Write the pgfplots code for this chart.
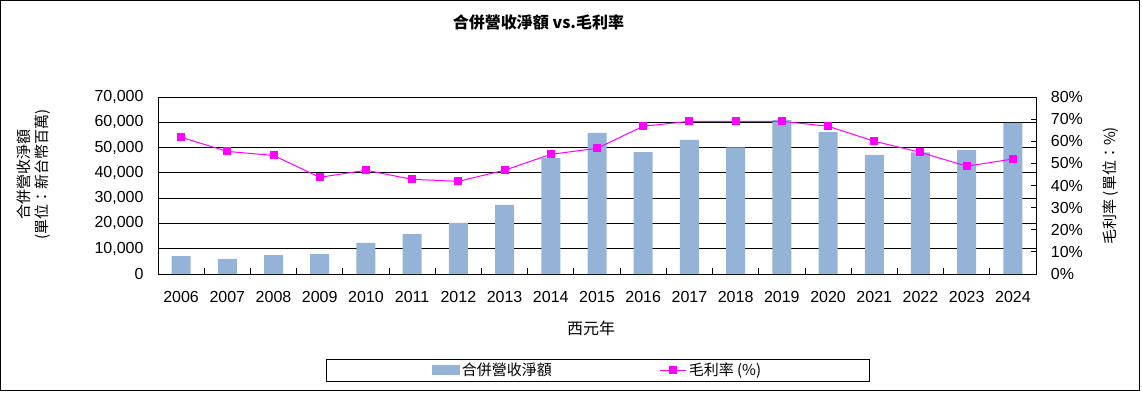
\documentclass[border=0pt]{standalone}
\usepackage{fontspec}
\setmainfont{Liberation Sans}
\newfontfamily\cjk{Noto Sans CJK TC}
\usepackage{pgfplots}
\usepackage{pgfplotstable}
\pgfplotsset{compat=1.18}
\definecolor{barblue}{RGB}{149,179,215}
\definecolor{mag}{RGB}{255,0,255}

\pgfplotstableread{
x rev gm
0 7100 61.8
1 6000 55.4
2 7500 53.6
3 7900 43.7
4 12300 46.9
5 15800 42.8
6 20200 41.9
7 27300 46.9
8 45900 54.1
9 55800 56.8
10 48200 66.8
11 53000 69.0
12 50100 69.0
13 60900 69.0
14 56100 66.8
15 47100 60.0
16 48100 55.0
17 49000 48.7
18 59800 52.0
}\datatable

\begin{document}
\begin{tikzpicture}
\pgfplotsset{
  common/.style={
    scale only axis, width=878pt, height=177pt,
    at={(0pt,0pt)}, anchor=south west,
    xmin=-0.5, xmax=18.5,
    /pgf/number format/assume math mode=true,
    tick label style={font=\fontsize{16}{19}\selectfont},
  },
}
\begin{axis}[common,
  ymin=0, ymax=70000,
  ytick={0,10000,...,70000},
  yticklabel style={/pgf/number format/fixed, /pgf/number format/1000 sep={,}, anchor=east, xshift=-11pt},
  scaled y ticks=false,
  ymajorgrids, grid style={black, line width=0.8pt},
  axis line style={black, line width=0.8pt},
  xtick={0,...,18},
  xticklabels={2006,2007,2008,2009,2010,2011,2012,2013,2014,2015,2016,2017,2018,2019,2020,2021,2022,2023,2024},
  xticklabel style={anchor=center, yshift=-22.7pt},
  major x tick style={draw=none},
  minor xtick={0.5,1.5,...,17.5},
  minor tick length=6pt,
  major tick length=5pt,
  tick align=inside,
  tick style={black, line width=0.8pt},
  xtick pos=bottom, ytick pos=left,
  title={\cjk\bfseries 合併營收淨額 vs.毛利率},
  title style={font=\fontsize{16}{19}\selectfont, at={(0.4334,1.3898)}, anchor=center},
  xlabel={\cjk 西元年},
  xlabel style={font=\fontsize{16}{19}\selectfont, at={(0.4932,-0.3051)}, anchor=center},
  ylabel={\cjk 合併營收淨額\\\cjk (單位：新台幣百萬)},
  ylabel style={font=\fontsize{15}{18}\selectfont, align=center, at={(-0.142,0.562)}, anchor=center, rotate=0},
]
\addplot[ybar, bar width=19pt, fill=barblue, draw=none] table[x=x, y=rev] {\datatable};
\end{axis}
\begin{axis}[common,
  hide x axis,
  axis y line*=right,
  ymin=0, ymax=80,
  ytick={0,10,...,80},
  yticklabel={\pgfmathprintnumber{\tick}\%},
  yticklabel style={anchor=west, xshift=11.4pt},
  tick align=inside,
  major tick length=5.5pt,
  tick style={black, line width=0.8pt},
  axis line style={black, line width=0.8pt},
  ylabel={\cjk 毛利率 (單位：\%)},
  ylabel style={font=\fontsize{15}{18}\selectfont, at={(1.0851,0.4989)}, anchor=center},
  legend columns=2,
  legend style={at={(0.5006,-0.5424)}, anchor=center, draw=black, line width=0.8pt,
    font=\cjk\fontsize{15}{18}\selectfont, inner xsep=106pt, inner ysep=2pt,
    /tikz/every even column/.append style={column sep=106pt}},
]
\addlegendimage{legend image code/.code={\fill[barblue] (0pt,-4.2pt) rectangle (27pt,4.2pt);}}
\addlegendentry{合併營收淨額}
\addplot[mag, line width=1pt, mark=square*, mark size=3.5pt, mark options={solid, fill=mag},
  legend image code/.code={\draw[mag, line width=1pt] (0pt,0pt) -- (26pt,0pt); \fill[mag] (9.5pt,-3.5pt) rectangle (16.5pt,3.5pt);}]
  table[x=x, y=gm] {\datatable};
\addlegendentry{毛利率 (\%)}
\end{axis}
\draw[black, line width=1pt] (-157.5pt,-116.8pt) rectangle (981.5pt,273.5pt);
\pgfresetboundingbox
\path[use as bounding box] (-158pt,-118pt) rectangle (984pt,274pt);
\end{tikzpicture}
\end{document}
